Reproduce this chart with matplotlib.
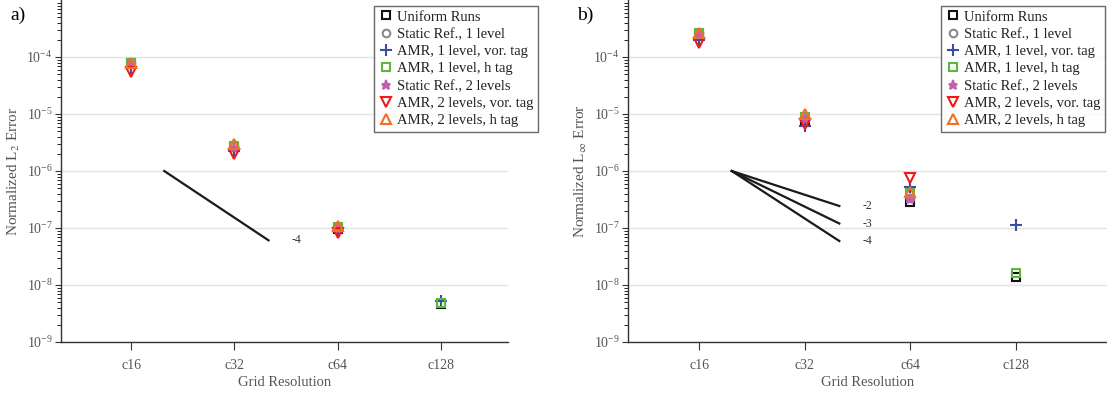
import numpy as np
import matplotlib
matplotlib.use("Agg")
import matplotlib.pyplot as plt

plt.rcParams['font.family'] = ['Liberation Serif', 'DejaVu Serif']
plt.rcParams['mathtext.fontset'] = 'stix'

categories = ['c16', 'c32', 'c64', 'c128']
series_names = ['Uniform Runs', 'Static Ref., 1 level', 'AMR, 1 level, vor. tag',
                'AMR, 1 level, h tag', 'Static Ref., 2 levels',
                'AMR, 2 levels, vor. tag', 'AMR, 2 levels, h tag']
nan = np.nan
# Panel a: normalized L2 error
l2_uniform   = [7.7e-5, 2.65e-6, 9.6e-8, 4.6e-9]
l2_static1   = [8.0e-5, 2.7e-6, 9.8e-8, nan]
l2_amr1_vor  = [6.3e-5, 2.2e-6, 9.0e-8, 5.2e-9]
l2_amr1_h    = [8.0e-5, 2.8e-6, 1.03e-7, 4.8e-9]
l2_static2   = [7.5e-5, 2.5e-6, 9.6e-8, nan]
l2_amr2_vor  = [5.5e-5, 1.96e-6, 8.2e-8, nan]
l2_amr2_h    = [7.7e-5, 3.0e-6, 1.07e-7, nan]
# Panel b: normalized Linf error
li_uniform   = [2.4e-4, 7.3e-6, 2.9e-7, 1.4e-8]
li_static1   = [2.6e-4, 8.3e-6, 3.3e-7, nan]
li_amr1_vor  = [2.0e-4, 6.1e-6, 5.3e-7, 1.14e-7]
li_amr1_h    = [2.6e-4, 8.7e-6, 4.1e-7, 1.6e-8]
li_static2   = [2.5e-4, 8.1e-6, 3.2e-7, nan]
li_amr2_vor  = [1.74e-4, 6.7e-6, 7.4e-7, nan]
li_amr2_h    = [2.65e-4, 1.0e-5, 4.2e-7, nan]

slopes_a = [-4]
slopes_b = [-2, -3, -4]
slope_start = 1e-6

styles = [
    dict(marker='s', mfc='none', mec='#111111', color='#111111'),
    dict(marker='o', mfc='none', mec='#8a8a8a', color='#8a8a8a'),
    dict(marker='+', mfc='none', mec='#3a4fa0', color='#3a4fa0'),
    dict(marker='s', mfc='none', mec='#5cb83a', color='#5cb83a'),
    dict(marker='*', mfc='#c060b0', mec='#c060b0', color='#c060b0'),
    dict(marker='v', mfc='none', mec='#f01818', color='#f01818'),
    dict(marker='^', mfc='none', mec='#f07028', color='#f07028'),
]
sizes = [5.5, 5.5, 9, 5.5, 6.5, 6.5, 6.5]

fig = plt.figure(figsize=(11.07, 3.96), dpi=100)
axA = fig.add_axes([61/1107, 54/396, 447/1107, 342/396])
axB = fig.add_axes([628/1107, 54/396, 479/1107, 342/396])

grey = '#555555'
x = np.arange(1, len(categories) + 1)

def setup(ax, data, ylabel, xlim, slopes, lx0, lx1, legend_anchor):
    for name, vals, st, ms in zip(series_names, data, styles, sizes):
        ax.plot(x, vals, linestyle='none', markersize=ms, markeredgewidth=1.5,
                label=name, **st)
    for s in slopes:
        xs = np.array([lx0, lx1])
        ys = slope_start * 2.0 ** (s * (xs - lx0))
        ax.plot(xs, ys, color='#1a1a1a', lw=1.6)
        ax.text(lx1 + 0.22, ys[-1], str(s), fontsize=8.5, color='#333333',
                va='center', ha='left')
    ax.set_yscale('log')
    ax.set_ylim(1e-9, 1e-3)
    ax.set_xlim(*xlim)
    ax.set_xticks(x)
    ax.set_xticklabels(categories)
    ax.set_yticks([1e-9, 1e-8, 1e-7, 1e-6, 1e-5, 1e-4])
    ax.yaxis.grid(True, which='major', color='#e3e3e3', lw=1)
    ax.set_axisbelow(True)
    for sp in ['top', 'right']:
        ax.spines[sp].set_visible(False)
    for sp in ['left', 'bottom']:
        ax.spines[sp].set_color('#333333')
        ax.spines[sp].set_linewidth(1.0)
    ax.tick_params(axis='both', colors='#333333', labelcolor=grey, labelsize=10)
    ax.tick_params(axis='x', length=6, pad=6)
    ax.tick_params(axis='y', which='major', length=4, pad=2)
    ax.tick_params(axis='y', which='minor', length=3)
    ax.set_xlabel('Grid Resolution', fontsize=10.5, color=grey, labelpad=3)
    ax.set_ylabel(ylabel, fontsize=11, color=grey, labelpad=3)
    leg = ax.legend(loc='upper right', bbox_to_anchor=legend_anchor,
                    bbox_transform=fig.transFigure, fontsize=10.5,
                    frameon=True, fancybox=False, handletextpad=0.3,
                    handlelength=1.0, borderpad=0.3, labelspacing=0.28,
                    borderaxespad=0)
    leg.get_frame().set_edgecolor('#444444')
    leg.get_frame().set_linewidth(1.0)
    for t in leg.get_texts():
        t.set_color('#222222')

setup(axA, [l2_uniform, l2_static1, l2_amr1_vor, l2_amr1_h, l2_static2, l2_amr2_vor, l2_amr2_h],
      'Normalized L$_2$ Error', (0.32, 4.65), slopes_a, 1.32, 2.33, (538/1107, 1 - 6/396))
setup(axB, [li_uniform, li_static1, li_amr1_vor, li_amr1_h, li_static2, li_amr2_vor, li_amr2_h],
      r'Normalized L$_\infty$ Error', (0.327, 4.867), slopes_b, 1.31, 2.33, (1105/1107, 1 - 6/396))

fig.text(10/1107, 1 - 15/396, 'a)', fontsize=14, va='center', ha='left')
fig.text(577/1107, 1 - 15/396, 'b)', fontsize=14, va='center', ha='left')

fig.savefig('out.png', dpi=100)
